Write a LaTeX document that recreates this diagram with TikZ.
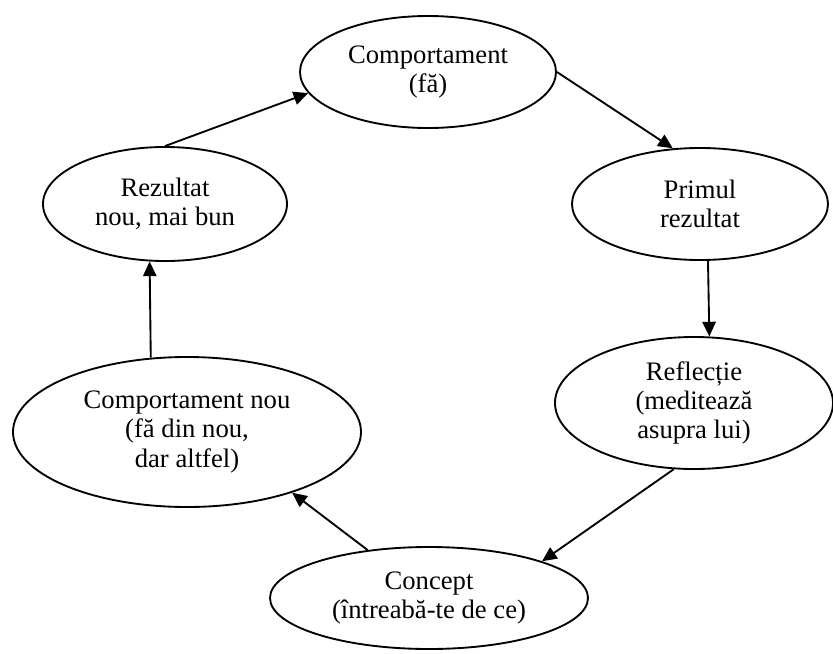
\documentclass[tikz,border=0pt]{standalone}
\usepackage{fontspec}
\setmainfont{Liberation Serif}
\usetikzlibrary{shapes.geometric,arrows.meta}
\begin{document}
\begin{tikzpicture}[x=0.75pt,y=-0.75pt,
  oval/.style 2 args={draw,ellipse,line width=1.4pt,inner sep=0pt,align=center,
    minimum width=#1*0.75pt,minimum height=#2*0.75pt,
    font=\fontsize{20}{22}\selectfont},
  arr/.style={-{Triangle[length=11pt,width=10pt]},line width=1.4pt}]
  \useasboundingbox (0,0) rectangle (833,654);
  \node [oval={256}{112}] (comp) at (428,72) {Comportament\\(fă)};
  \node [oval={256}{112}] (prim) at (700,204) {Primul\\rezultat};
  \node [oval={278}{132}] (refl) at (694,403) {Reflecție\\(meditează\\asupra lui)};
  \node [oval={318}{102}] (conc) at (429,598) {Concept\\(întreabă-te de ce)};
  \node [oval={348}{150}] (cnou) at (187,432) {Comportament nou\\(fă din nou,\\dar altfel)};
  \node [oval={244}{114}] (rez) at (165,204) {Rezultat\\nou, mai bun};
  \draw [arr] (comp.east) -- (prim.116);
  \draw [arr] (prim.-82) -- (refl.77);
  \draw [arr] (refl.-107) -- (conc.18);
  \draw [arr] (conc.142) -- (cnou.-30);
  \draw [arr] (cnou.116) -- (rez.-105);
  \draw [arr] (rez.north) -- (comp.190);
\end{tikzpicture}
\end{document}
